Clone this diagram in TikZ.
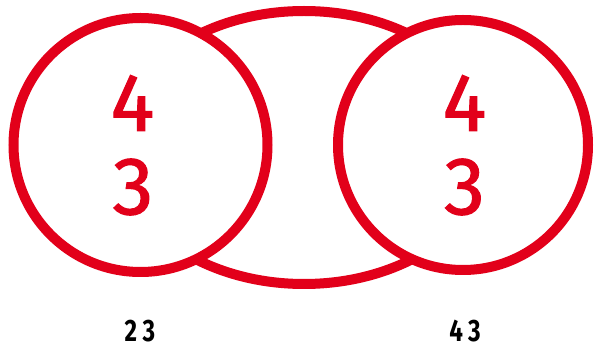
\documentclass[tikz,border=0pt]{standalone}
\usepackage{fontspec}
\setmainfont{Fira Sans}
\newfontfamily\digitfont[FakeBold=1.3]{Fira Sans}
\newfontfamily\smallfont[FakeStretch=0.78,LetterSpace=18]{Fira Sans}
\usetikzlibrary{shapes.geometric}
\definecolor{ringred}{HTML}{E2001A}

\begin{document}
\begin{tikzpicture}[x=1pt,y=-1pt,ring/.style={circle,draw=ringred,line width=10pt,fill=white,inner sep=0pt},oval/.style={ellipse,draw=ringred,line width=10pt,inner sep=0pt},digit/.style={text=ringred,font=\digitfont\fontsize{82}{82}\selectfont,inner sep=0pt},sum/.style={font=\smallfont\bfseries\fontsize{31}{31}\selectfont,inner sep=0pt}]
\useasboundingbox (0,0) rectangle (595,347);
\node[oval,minimum width=376pt,minimum height=273pt] (mid) at (304,147.5) {};
\node[ring,minimum size=254pt] (l) at (140.5,145) {};
\node[ring,minimum size=250pt] (r) at (463,145) {};
\node[digit] (l4) at (132.5,103) {4};
\node[digit] (l3) at (133,187) {3};
\node[digit] (r4) at (464.5,103) {4};
\node[digit] (r3) at (464.5,187) {3};
\node[sum] (ls) at (140,331) {23};
\node[sum] (rs) at (465,331) {43};
\end{tikzpicture}
\end{document}
